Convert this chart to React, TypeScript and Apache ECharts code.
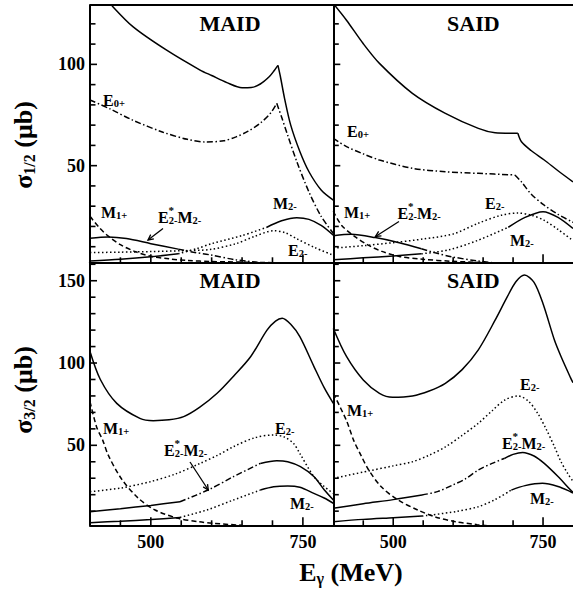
import React, { useEffect, useRef } from "react";
import * as echarts from "echarts";

const FONT = '"Liberation Serif", "Times New Roman", serif';

// Photon energy (MeV) and cross section (μb) pairs
// ---- helicity 1/2, MAID ----
const maidHalfTotal = [[400,143],[420,135],[436,129],[471,118.5],[526,107],[581,97.2],[600,94.5],[625,91],[650,88.5],[665,88.6],[680,90.3],[695,94],[703,97],[709,99.5],[713,94],[720,83],[730,70],[745,57],[760,47],[780,38],[800,33]];
const maidHalfE0p = [[400,82.4],[433,78],[470,72.5],[520,66.5],[560,63],[590,61.7],[620,62.3],[640,64.2],[660,67],[680,71],[697,76],[707,80.8],[715,74],[725,65],[740,52],[760,37],[780,25],[800,16.6]];
const maidHalfM1p = [[400,25],[415,19.5],[430,15.2],[450,11],[475,7.5],[500,5.3],[530,4],[560,3.2],[600,2.7],[650,2.4],[700,2.1]];
const maidHalfE2m = [[400,7.1],[450,7.3],[500,7.6],[550,8],[597,8.6],[640,11.5],[670,15],[702,17.9],[720,17],[740,13.9],[770,9.5],[800,5.8]];
const maidHalfM2m = [[400,3],[450,3.8],[500,5],[545,6.5],[575,9],[600,11.5],[650,15.5],[690,19.5],[715,22.8],[740,24.3],[760,23.5],[780,20.5],[800,15.7]];
const maidHalfE2M2 = [[400,14.2],[430,14.8],[460,14],[500,11.5],[545,8.8],[570,7.3],[597,6],[640,3.5],[691,1.8],[720,1.2],[750,0.3]];

// ---- helicity 1/2, SAID ----
const saidHalfTotal = [[400,130],[422,121.8],[449.5,110.4],[477,100.5],[532,85.7],[587,75.8],[642,68.4],[670,66.3],[708,66],[714,61.8],[730,57.5],[752,52.8],[775,47.5],[800,42]];
const saidHalfE0p = [[400,63.5],[422,59.4],[450,55.8],[477,52.8],[532,48.7],[587,47],[642,46.2],[703,45.4],[714,42],[730,36],[752,30.5],[775,26],[800,22]];
const saidHalfM1p = [[400,27.5],[414,20.5],[436,15],[460,10.5],[480,7.8],[510,5.2],[549,3.8],[598,2.8],[650,2.2]];
const saidHalfE2m = [[400,9.3],[450,10.5],[500,12],[550,13.8],[600,16.3],[642,21.6],[680,25.5],[708,26.6],[730,25.6],[752,23],[775,18.5],[800,13]];
const saidHalfM2m = [[400,3.6],[450,4.5],[500,5.4],[547,6.5],[592,8.4],[640,13],[692,19.6],[720,24.5],[750,27.3],[775,24.5],[800,19]];
const saidHalfE2M2 = [[400,15.4],[430,16.1],[470,14.5],[510,12],[547,9],[570,7],[598,5],[640,3],[697,1.2],[730,0.3]];

// ---- helicity 3/2, MAID ----
const maidThreeTotal = [[400,107],[417,90],[444,75.5],[482,66.4],[504,65],[530,65.5],[554,67.4],[580,73],[609,81.6],[636,92],[664,103.8],[691,120],[705,125.5],[716,127.2],[730,123.5],[745,116],[768,98],[785,85],[800,75.5]];
const maidThreeM1p = [[400,76.5],[411,61],[421,53],[430,44],[452,29.5],[479,18],[507,10.7],[545,5.6],[580,3.5],[603,2.6],[650,1.4]];
const maidThreeE2m = [[400,21.8],[450,24],[499,27.9],[540,32.5],[581,39],[610,44],[636,49.2],[670,54.5],[702,56.3],[720,55],[735,51],[745,45],[768,31],[785,25],[800,20.8]];
const maidThreeM2m = [[400,3],[450,3.9],[500,4.9],[548,6.2],[592,10.7],[636,16.8],[680,22.8],[702,24.8],[725,25.3],[745,24.5],[768,20.8],[785,18],[800,14.8]];
const maidThreeE2M2 = [[400,9.7],[450,11.5],[500,13.5],[548,15.7],[595,23],[636,31],[680,39],[707,40.6],[725,40],[746,37],[768,31],[785,23],[800,16.8]];

// ---- helicity 3/2, SAID ----
const saidThreeTotal = [[400,121],[422,104],[450,89.7],[477,81.6],[499,79.2],[532,80],[560,83],[587,87.7],[615,96],[642,108],[670,126],[690,140],[705,149.5],[719,153.5],[735,149],[750,136],[769,114],[780,104],[796,91],[800,88]];
const saidThreeM1p = [[400,81.6],[422,65],[434,53],[446,44],[459,35],[480,24.8],[508,16.8],[541,10.7],[570,6.5],[604,3.6],[640,1.8],[660,1]];
const saidThreeE2m = [[400,29.9],[460,34.5],[500,37.5],[532,40],[560,44],[587,49],[615,56],[642,63.4],[665,71],[686,77.5],[708,80],[725,77],[741,69.5],[755,60],[769,49.2],[780,40],[791,33],[800,28]];
const saidThreeM2m = [[400,3.6],[450,5],[500,6],[548,7],[604,9.7],[642,12.7],[670,17],[697,22.8],[720,25.5],[749,26.9],[775,25],[796,21.8],[800,21]];
const saidThreeE2M2 = [[400,11.7],[450,14.5],[500,17],[548,19.8],[575,22],[600,26],[620,29.5],[642,35],[665,39],[686,42.1],[700,44.5],[716,45.7],[735,43.5],[752,39],[775,31],[796,22.8],[800,21.5]];

// Axis ticks and labels
const xMinorTicks = [450, 550, 600, 650, 700];
const xMajorTicks = [500, 750];
const xLabels = [500, 750];
const yTicksHalf = [10, 20, 30, 40, 50, 60, 70, 80, 90, 100, 110, 120];
const yTicksThree = [10, 20, 30, 40, 50, 60, 70, 80, 90, 100, 110, 120, 130, 140, 150, 160];
const yLabelsHalf = [50, 100];
const yLabelsThree = [50, 100, 150];
const panelTitles = ["MAID", "SAID", "MAID", "SAID"];

// line styles
const DASH: Record<string, any> = {
  solid: "solid",
  dashed: [5, 3],
  dotted: [1.5, 2.5],
  dashdot: [6, 2.5, 1.5, 2.5],
};

type Seg = [number, number, string];
type Curve = { data: number[][]; segs: Seg[] };

const totalSegs = (kink: number): Seg[] => [[400, kink, "solid"], [kink, 800, "solid"]];

const panels = [
  {
    left: 90, top: 5, height: 257.3, yMin: 2.3, yMax: 129.3, leftCol: true, bottomRow: false,
    yTicks: yTicksHalf, yLabels: yLabelsHalf,
    curves: [
      { data: maidHalfTotal, segs: totalSegs(709) },
      { data: maidHalfE0p, segs: [[400, 707, "dashdot"], [707, 800, "dashdot"]] },
      { data: maidHalfM1p, segs: [[400, 800, "dashed"]] },
      { data: maidHalfE2m, segs: [[400, 800, "dotted"]] },
      { data: maidHalfM2m, segs: [[400, 545, "solid"], [545, 690, "dotted"], [690, 800, "solid"]] },
      { data: maidHalfE2M2, segs: [[400, 545, "solid"], [545, 691, "dashdot"], [691, 800, "solid"]] },
    ] as Curve[],
  },
  {
    left: 333.3, top: 5, height: 257.3, yMin: 2.3, yMax: 129.3, leftCol: false, bottomRow: false,
    yTicks: yTicksHalf, yLabels: yLabelsHalf,
    curves: [
      { data: saidHalfTotal, segs: totalSegs(708) },
      { data: saidHalfE0p, segs: [[400, 703, "dashdot"], [703, 800, "dashdot"]] },
      { data: saidHalfM1p, segs: [[400, 800, "dashed"]] },
      { data: saidHalfE2m, segs: [[400, 800, "dotted"]] },
      { data: saidHalfM2m, segs: [[400, 547, "solid"], [547, 692, "dotted"], [692, 800, "solid"]] },
      { data: saidHalfE2M2, segs: [[400, 547, "solid"], [547, 800, "dashdot"]] },
    ] as Curve[],
  },
  {
    left: 90, top: 262.3, height: 263, yMin: 1.4, yMax: 161.2, leftCol: true, bottomRow: true,
    yTicks: yTicksThree, yLabels: yLabelsThree,
    curves: [
      { data: maidThreeTotal, segs: [[400, 800, "solid"]] },
      { data: maidThreeM1p, segs: [[400, 800, "dashed"]] },
      { data: maidThreeE2m, segs: [[400, 800, "dotted"]] },
      { data: maidThreeM2m, segs: [[400, 548, "solid"], [548, 680, "dotted"], [680, 800, "solid"]] },
      { data: maidThreeE2M2, segs: [[400, 548, "solid"], [548, 680, "dashdot"], [680, 800, "solid"]] },
    ] as Curve[],
  },
  {
    left: 333.3, top: 262.3, height: 263, yMin: 1.4, yMax: 161.2, leftCol: false, bottomRow: true,
    yTicks: yTicksThree, yLabels: yLabelsThree,
    curves: [
      { data: saidThreeTotal, segs: [[400, 800, "solid"]] },
      { data: saidThreeM1p, segs: [[400, 800, "dashed"]] },
      { data: saidThreeE2m, segs: [[400, 800, "dotted"]] },
      { data: saidThreeM2m, segs: [[400, 548, "solid"], [548, 697, "dotted"], [697, 800, "solid"]] },
      { data: saidThreeE2M2, segs: [[400, 548, "solid"], [548, 686, "dashdot"], [686, 800, "solid"]] },
    ] as Curve[],
  },
];

const PANEL_W = 243.3;

const tickLabelStyle = {
  fontFamily: FONT,
  fontWeight: "bold" as const,
  fontSize: 18,
  color: "#000",
};

// curve annotations: [x, y, rich-text parts, star after first glyph]
type Part = [string, "n" | "b"];
const annotations: { x: number; y: number; parts: Part[]; star?: boolean }[] = [
  // MAID 1/2
  { x: 103, y: 100, parts: [["E", "n"], ["0+", "b"]] },
  { x: 101, y: 212, parts: [["M", "n"], ["1+", "b"]] },
  { x: 158, y: 217, parts: [["E", "n"], ["2-", "b"], ["M", "n"], ["2-", "b"]], star: true },
  { x: 273, y: 203, parts: [["M", "n"], ["2-", "b"]] },
  { x: 288, y: 250, parts: [["E", "n"], ["2-", "b"]] },
  // SAID 1/2
  { x: 347, y: 131, parts: [["E", "n"], ["0+", "b"]] },
  { x: 344, y: 212, parts: [["M", "n"], ["1+", "b"]] },
  { x: 397.5, y: 213, parts: [["E", "n"], ["2-", "b"], ["M", "n"], ["2-", "b"]], star: true },
  { x: 485, y: 203, parts: [["E", "n"], ["2-", "b"]] },
  { x: 510, y: 240, parts: [["M", "n"], ["2-", "b"]] },
  // MAID 3/2
  { x: 103, y: 428, parts: [["M", "n"], ["1+", "b"]] },
  { x: 164, y: 450, parts: [["E", "n"], ["2-", "b"], ["M", "n"], ["2-", "b"]], star: true },
  { x: 275, y: 428, parts: [["E", "n"], ["2-", "b"]] },
  { x: 290, y: 503, parts: [["M", "n"], ["2-", "b"]] },
  // SAID 3/2
  { x: 347, y: 410, parts: [["M", "n"], ["1+", "b"]] },
  { x: 520, y: 384, parts: [["E", "n"], ["2-", "b"]] },
  { x: 502, y: 443, parts: [["E", "n"], ["2-", "b"], ["M", "n"], ["2-", "b"]], star: true },
  { x: 530, y: 498, parts: [["M", "n"], ["2-", "b"]] },
];

// arrows from annotation to curve: [x1, y1, x2 (head), y2 (head)]
const arrows = [
  [163, 228.5, 148, 240],
  [399, 221.5, 375.5, 236.5],
  [190, 462, 208.3, 490],
];

const annRich = {
  n: { fontFamily: FONT, fontWeight: "bold", fontSize: 16, lineHeight: 22, fill: "#000" },
  b: { fontFamily: FONT, fontWeight: "bold", fontSize: 10.5, fill: "#000", verticalAlign: "bottom", padding: [0, 0, 2, 0] },
};

function richText(parts: Part[]) {
  return parts.map(([t, k]) => `{${k}|${t}}`).join("");
}

function buildGraphic() {
  const g: any[] = [];
  // frame line along the top of the upper panels
  g.push({
    type: "line",
    silent: true,
    shape: { x1: panels[0].left, y1: panels[0].top, x2: 580, y2: panels[0].top },
    style: { stroke: "#000", lineWidth: 2 },
  });
  panelTitles.forEach((t, i) => {
    const p = panels[i];
    g.push({
      type: "text",
      x: p.left + 140,
      y: p.top + 18.5,
      silent: true,
      style: {
        text: t,
        fontFamily: FONT,
        fontWeight: "bold",
        fontSize: 22,
        fill: "#000",
        align: "center",
        verticalAlign: "middle",
      },
    });
  });
  annotations.forEach((a) => {
    g.push({
      type: "text",
      x: a.x,
      y: a.y,
      silent: true,
      style: { text: richText(a.parts), rich: annRich, align: "left", verticalAlign: "middle", fill: "#000" },
    });
    if (a.star) {
      g.push({
        type: "text",
        x: a.x + 10.5,
        y: a.y - 7,
        silent: true,
        style: { text: "*", fontFamily: FONT, fontWeight: "bold", fontSize: 11, fill: "#000", align: "left", verticalAlign: "middle" },
      });
    }
  });
  arrows.forEach(([x1, y1, x2, y2]) => {
    const ang = Math.atan2(y2 - y1, x2 - x1);
    const len = 6;
    const w = 0.45;
    g.push({
      type: "line",
      silent: true,
      shape: { x1, y1, x2, y2 },
      style: { stroke: "#000", lineWidth: 1.3 },
    });
    g.push({
      type: "polyline",
      silent: true,
      shape: {
        points: [
          [x2 - len * Math.cos(ang - w), y2 - len * Math.sin(ang - w)],
          [x2, y2],
          [x2 - len * Math.cos(ang + w), y2 - len * Math.sin(ang + w)],
        ],
      },
      style: { stroke: "#000", lineWidth: 1.3, fill: null },
    });
  });
  const titleRich = {
    a: { fontFamily: FONT, fontWeight: "bold", fontSize: 26, lineHeight: 32, fill: "#000" },
    s: { fontFamily: FONT, fontWeight: "bold", fontSize: 16, fill: "#000", verticalAlign: "bottom", padding: [0, 0, 2, 0] },
  };
  g.push({
    type: "text", x: 23, y: 145, rotation: Math.PI / 2, silent: true,
    style: { text: "{a|σ}{s|1/2}{a| (μb)}", rich: titleRich, align: "center", verticalAlign: "middle" },
  });
  g.push({
    type: "text", x: 23, y: 390, rotation: Math.PI / 2, silent: true,
    style: { text: "{a|σ}{s|3/2}{a| (μb)}", rich: titleRich, align: "center", verticalAlign: "middle" },
  });
  g.push({
    type: "text", x: 351, y: 572, silent: true,
    style: { text: "{a|E}{s|γ}{a| (MeV)}", rich: titleRich, align: "center", verticalAlign: "middle" },
  });
  return g;
}

// inward tick marks, placed through each panel's own axis scales
function buildTicks(chart: echarts.ECharts) {
  const g: any[] = [];
  const tickStyle = { stroke: "#000", lineWidth: 1.6 };
  panels.forEach((p, i) => {
    const baseY = chart.convertToPixel({ yAxisIndex: i } as any, p.yMin) as number;
    const baseX = chart.convertToPixel({ xAxisIndex: i } as any, 400) as number;
    const xt = [
      ...xMinorTicks.map((v) => [v, 5]),
      ...xMajorTicks.map((v) => [v, 8]),
    ];
    xt.forEach(([v, len]) => {
      const px = chart.convertToPixel({ xAxisIndex: i } as any, v) as number;
      g.push({ type: "line", silent: true, shape: { x1: px, y1: baseY, x2: px, y2: baseY - len }, style: tickStyle });
    });
    p.yTicks.forEach((v) => {
      const py = chart.convertToPixel({ yAxisIndex: i } as any, v) as number;
      const len = p.yLabels.includes(v) ? 7 : 5.5;
      g.push({ type: "line", silent: true, shape: { x1: baseX, y1: py, x2: baseX + len, y2: py }, style: tickStyle });
    });
  });
  return g;
}

function buildOption() {
  const grid: any[] = [];
  const xAxis: any[] = [];
  const yAxis: any[] = [];
  const series: any[] = [];

  panels.forEach((p, i) => {
    grid.push({
      left: p.left,
      top: p.top,
      width: PANEL_W,
      height: p.height,
      show: false,
      containLabel: false,
    });
    xAxis.push({
      gridIndex: i,
      type: "value",
      min: 400,
      max: 800,
      position: "bottom",
      axisLine: { show: true, onZero: false, lineStyle: { color: "#000", width: 2 } },
      axisTick: { show: false },
      axisLabel: { show: p.bottomRow, customValues: xLabels, margin: 8, ...tickLabelStyle },
      splitLine: { show: false },
    });
    yAxis.push({
      gridIndex: i,
      type: "value",
      min: p.yMin,
      max: p.yMax,
      position: "left",
      axisLine: { show: true, onZero: false, lineStyle: { color: "#000", width: 2 } },
      axisTick: { show: false },
      axisLabel: { show: p.leftCol, customValues: p.yLabels, margin: 5, ...tickLabelStyle },
      splitLine: { show: false },
    });

    p.curves.forEach((c) => {
      c.segs.forEach(([from, to, kind]) => {
        series.push({
          type: "line",
          xAxisIndex: i,
          yAxisIndex: i,
          data: c.data.filter(([e]) => e >= from && e <= to),
          showSymbol: false,
          symbol: "none",
          smooth: 0.3,
          clip: true,
          silent: true,
          lineStyle: { color: "#000", width: 1.5, type: DASH[kind] },
        });
      });
    });
  });

  return {
    animation: false,
    backgroundColor: "#fff",
    grid,
    xAxis,
    yAxis,
    series,
  };
}

export default function App() {
  const ref = useRef<HTMLDivElement>(null);
  useEffect(() => {
    if (!ref.current) return;
    const chart = echarts.init(ref.current, null, { renderer: "svg", width: 573, height: 595 });
    chart.setOption(buildOption() as any);
    chart.setOption({ graphic: [...buildGraphic(), ...buildTicks(chart)] } as any);
    return () => chart.dispose();
  }, []);
  return (
    <div
      ref={ref}
      style={{ position: "absolute", left: 0, top: 0, width: 573, height: 595, background: "#fff" }}
    />
  );
}
